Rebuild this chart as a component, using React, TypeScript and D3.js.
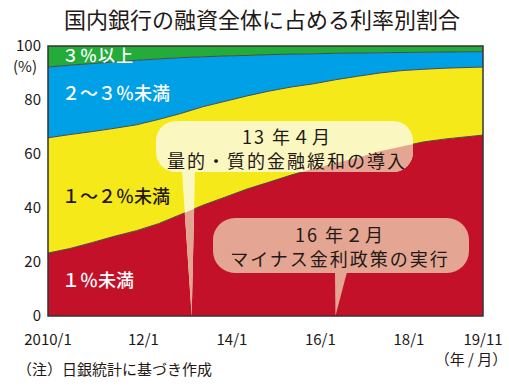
import React from 'react';
import * as d3 from 'd3';

// semi-annual readings (share of loans, %)
const months = ['2010-01', '2010-07', '2011-01', '2011-07', '2012-01', '2012-07', '2013-01', '2013-07', '2014-01', '2014-07',
  '2015-01', '2015-07', '2016-01', '2016-07', '2017-01', '2017-07', '2018-01', '2018-07', '2019-01', '2019-11'];
const under1 = [23.3, 25, 27.2, 29.5, 31.6, 34.2, 37.6, 41, 44, 47, 49.6, 52.2, 54.5, 56.7, 58.6, 61, 62.8, 64.5, 65.6, 67];
const from1to2 = [42.7, 42.2, 41.1, 40, 39.2, 38.6, 37.4, 36.5, 35.5, 34.5, 33.7, 32.6, 31.5, 30.8, 30.2, 29, 28.1, 26.9, 26.2, 25.2];
const from2to3 = [26.2, 25.7, 25.2, 24.6, 23.9, 22.4, 20.7, 18.5, 16.8, 15, 13.5, 12.2, 11.1, 9.8, 8.6, 7.5, 6.7, 6.3, 6, 5.7];
const over3 = [7.8, 7.1, 6.5, 5.9, 5.3, 4.8, 4.3, 4, 3.7, 3.5, 3.2, 3, 2.9, 2.7, 2.6, 2.5, 2.4, 2.3, 2.2, 2.1];

const keys = ['under1', 'from1to2', 'from2to3', 'over3'];
const colors = ['#c4112a', '#f6e919', '#00a0e6', '#23ac3a'];

const xTickDates = ['2010-01', '2012-01', '2014-01', '2016-01', '2018-01', '2019-11'];
const xTickLabels = ['2010/1', '12/1', '14/1', '16/1', '18/1', '19/11'];
const yTicks = [0, 20, 40, 60, 80, 100];

const W = 509, H = 388;
const L = 48, R = 483, T = 46, B = 316;
const FONT = '"Noto Sans CJK JP", "Noto Sans", sans-serif';
const INK = '#231815';

const parse = d3.timeParse('%Y-%m');

export default function App() {
  const rows = months.map((m, i) => ({
    date: parse(m) as Date,
    under1: under1[i], from1to2: from1to2[i], from2to3: from2to3[i], over3: over3[i]
  }));

  const x = d3.scaleTime()
    .domain([parse('2010-01') as Date, parse('2019-11') as Date])
    .range([L, R]);
  const y = d3.scaleLinear().domain([0, 100]).range([B, T]);

  const series = d3.stack<any>().keys(keys)(rows);

  const area = d3.area<any>()
    .x(d => x(d.data.date))
    .y0(d => y(d[0]))
    .y1(d => y(d[1]));
  const topLine = d3.line<any>()
    .x(d => x(d.data.date))
    .y(d => y(d[1]));

  // callout pointer tips (the second tip is drawn where the source put it)
  const tip1 = x(parse('2013-04') as Date);
  const tip2 = x(parse('2016-07') as Date);

  const bubble = (bx: number, by: number, bw: number, bh: number, r: number, t0: number, t1: number, tip: number) => (
    <>
      <rect x={bx} y={by} width={bw} height={bh} rx={r} ry={r} />
      <polygon points={`${t0},${by + bh - 1} ${t1},${by + bh - 1} ${tip},${B}`} />
    </>
  );

  const callout1 = bubble(156, 121, 257, 51, 20, 182, 195, tip1);
  const callout2 = bubble(213, 218, 256, 55, 22, 335, 347, tip2);

  return (
    <svg width={W} height={H} style={{ position: 'absolute', left: 0, top: 0, background: '#fff' }}>
      <defs>
        <clipPath id="plot"><rect x={L} y={T} width={R - L} height={B - T} /></clipPath>
        <clipPath id="red"><path d={area(series[0] as any) || ''} /></clipPath>
      </defs>

      <text x={262} y={28} textAnchor="middle" fontFamily={FONT} fontSize={22} fill={INK}>
        国内銀行の融資全体に占める利率別割合
      </text>

      <g clipPath="url(#plot)">
        {series.map((s, i) => (
          <path key={s.key} d={area(s as any) || ''} fill={colors[i]} />
        ))}
        {series.slice(0, 3).map(s => (
          <path key={'l' + s.key} d={topLine(s as any) || ''} fill="none" stroke="#4a4a4a" strokeWidth={1} />
        ))}

        <g fill="#fbf7c1">{callout1}</g>
        <g fill="#e4a693" clipPath="url(#red)">{callout1}</g>
        <g fill="#e4a693">{callout2}</g>

        <text x={62} y={62} fontFamily={FONT} fontSize={17} fill="#fff" fontWeight={500} letterSpacing={1}>３％以上</text>
      </g>

      <rect x={L} y={T} width={R - L} height={B - T} fill="none" stroke="#333" strokeWidth={1.5} />

      <g fontFamily={FONT} fontSize={18} fontWeight={500}>
        <text x={62} y={100} fill="#fff">２～３％未満</text>
        <text x={62} y={203} fill={INK}>１～２％未満</text>
        <text x={62} y={287} fill="#fff">１％未満</text>
      </g>

      <g fontFamily={FONT} fontSize={18} fill={INK} textAnchor="middle" letterSpacing={2}>
        <text x={287} y={144}>13 年４月</text>
        <text x={287} y={168}>量的・質的金融緩和の導入</text>
        <text x={340} y={242}>16 年２月</text>
        <text x={340} y={266}>マイナス金利政策の実行</text>
      </g>

      <g fontFamily={FONT} fontSize={15} fill={INK}>
        {yTicks.map(v => (
          <text key={v} x={41} y={y(v)} dy="0.35em" textAnchor="end">{v}</text>
        ))}
        <text x={25} y={72} textAnchor="middle">(%)</text>
        {xTickDates.map((m, i) => (
          <text key={m} x={x(parse(m) as Date) + (i > 0 && i < xTickDates.length - 1 ? 7 : 0)} y={345}
            textAnchor="middle">{xTickLabels[i]}</text>
        ))}
        <text x={471} y={365} textAnchor="middle">（年 / 月）</text>
        <text x={17} y={375}>（注）日銀統計に基づき作成</text>
      </g>
    </svg>
  );
}
